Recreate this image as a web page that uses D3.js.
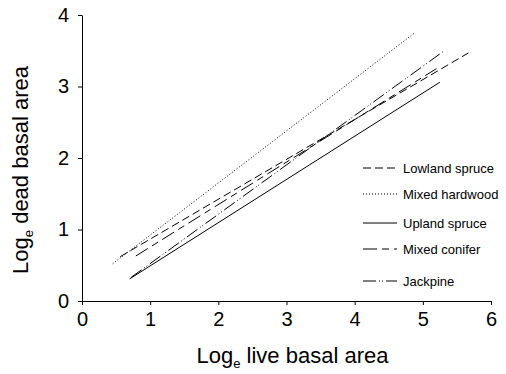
<!DOCTYPE html>
<html>
<head>
<meta charset="utf-8">
<script src="https://cdn.jsdelivr.net/npm/d3@7"></script>
<style>
  body { margin: 0; background: #fff; }
  text { font-family: "Liberation Sans", Arial, sans-serif; fill: #000; }
</style>
</head>
<body>
<script>
// Log dead vs log live basal area, one fitted line per forest type

const seriesNames = ['Lowland spruce', 'Mixed hardwood', 'Upland spruce', 'Mixed conifer', 'Jackpine'];
const xStart = [0.56, 0.45, 0.70, 0.79, 0.72];
const yStart = [0.62, 0.52, 0.31, 0.63, 0.33];
const xEnd   = [5.67, 4.88, 5.25, 5.20, 5.30];
const yEnd   = [3.47, 3.75, 3.06, 3.25, 3.49];
const xTicks = [0, 1, 2, 3, 4, 5, 6];
const yTicks = [0, 1, 2, 3, 4];

const dashes = ['8,4', '1,2', null, '14,5,7,5', '13,3,1,2,1,3'];

var margin = {top: 15, bottom: 73, left: 82, right: 15},
    width = 506 - margin.left - margin.right,
    height = 374 - margin.top - margin.bottom;

var svg = d3.select("body").append("svg")
    .attr("width", 506)
    .attr("height", 374)
  .append("g")
    .attr("transform", "translate(" + margin.left + "," + margin.top + ")");

const xScale = d3.scaleLinear().domain([0, 6]).range([0, width]);
const yScale = d3.scaleLinear().domain([0, 4]).range([height, 0]);

const xAxis = d3.axisBottom(xScale).tickValues(xTicks).tickFormat(d3.format('d')).tickSizeInner(4).tickSizeOuter(0).tickPadding(7);
const yAxis = d3.axisLeft(yScale).tickValues(yTicks).tickFormat(d3.format('d')).tickSizeInner(4).tickSizeOuter(0).tickPadding(9);

const gx = svg.append('g')
    .attr('transform', `translate(0,${height})`)
    .call(xAxis);
gx.selectAll('text').attr('font-size', 20).attr('font-family', '"Liberation Sans", Arial, sans-serif');

const gy = svg.append('g').call(yAxis);
gy.selectAll('text').attr('font-size', 20).attr('font-family', '"Liberation Sans", Arial, sans-serif');

svg.selectAll('.domain, .tick line').attr('stroke', '#000').attr('stroke-width', 1);

// axis titles
const xt = svg.append('text')
    .attr('x', width / 2 + 6)
    .attr('y', height + 62)
    .attr('text-anchor', 'middle')
    .attr('font-size', 22);
xt.append('tspan').text('Log');
xt.append('tspan').attr('font-size', 13).attr('dy', 5).text('e');
xt.append('tspan').attr('dy', -5).text(' live basal area');

const yt = svg.append('text')
    .attr('transform', `translate(${-54},${height / 2 + 12}) rotate(-90)`)
    .attr('text-anchor', 'middle')
    .attr('font-size', 22);
yt.append('tspan').text('Log');
yt.append('tspan').attr('font-size', 13).attr('dy', 5).text('e');
yt.append('tspan').attr('dy', -5).text(' dead basal area');

// fitted lines
const lineData = seriesNames.map((name, i) => ({
    name: name,
    dash: dashes[i],
    pts: [[xStart[i], yStart[i]], [xEnd[i], yEnd[i]]]
}));

const line = d3.line().x(d => xScale(d[0])).y(d => yScale(d[1]));

svg.selectAll('.fit').data(lineData)
  .enter().append('path')
    .attr('class', 'fit')
    .attr('d', d => line(d.pts))
    .attr('fill', 'none')
    .attr('stroke', '#000')
    .attr('stroke-width', 1)
    .attr('stroke-dasharray', d => d.dash);

// legend
const legendY = [168, 194, 223, 249, 281];
const lg = svg.append('g')
    .attr('transform', `translate(${363 - margin.left},${-margin.top})`);

const item = lg.selectAll('.leg').data(lineData)
  .enter().append('g')
    .attr('transform', (d, i) => `translate(0,${legendY[i]})`);

item.append('line')
    .attr('x1', 0).attr('x2', 34)
    .attr('stroke', '#000')
    .attr('stroke-width', 1)
    .attr('stroke-dasharray', d => d.dash);

item.append('text')
    .attr('x', 40)
    .attr('y', 5)
    .attr('font-size', 13)
    .text(d => d.name);
</script>
</body>
</html>
